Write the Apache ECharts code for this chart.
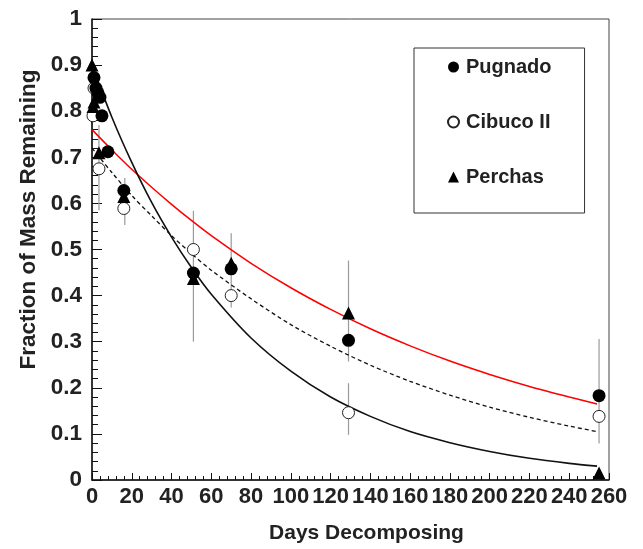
<!DOCTYPE html>
<html>
<head>
<meta charset="utf-8">
<script src="https://cdn.jsdelivr.net/npm/echarts@6/dist/echarts.min.js"></script>
<style>
html,body{margin:0;padding:0;background:#fff;}
#chart{width:643px;height:549px;}
</style>
</head>
<body>
<div id="chart"></div>
<script>
// ---- Data ----
const pugnadoDays = [1, 2, 3, 4, 5, 8, 16, 51, 70, 129, 255];
const pugnadoFrac = [0.873, 0.85, 0.84, 0.83, 0.79, 0.712, 0.628, 0.449, 0.458, 0.303, 0.183];

const cibucoDays = [0.5, 1, 3.5, 16, 51, 70, 129, 255];
const cibucoFrac = [0.79, 0.85, 0.675, 0.589, 0.50, 0.40, 0.146, 0.138];

const perchasDays = [0, 1, 0.5, 3.5, 16, 51, 70, 129, 255];
const perchasFrac = [0.90, 0.82, 0.81, 0.71, 0.615, 0.437, 0.47, 0.362, 0.015];

// error bars: day, low, high
const errDays = [3.5, 16.5, 51, 70, 129, 129, 255];
const errLow  = [0.585, 0.553, 0.30, 0.374, 0.257, 0.098, 0.079];
const errHigh = [0.77, 0.655, 0.584, 0.535, 0.476, 0.21, 0.306];

// fitted curves
const curveDays = [0, 10, 20, 30, 40, 50, 60, 80, 100, 120, 140, 160, 180, 200, 220, 240, 254];
const fitBlack  = [0.90, 0.787, 0.689, 0.602, 0.527, 0.461, 0.403, 0.308, 0.236, 0.180, 0.138, 0.105, 0.081, 0.062, 0.047, 0.036, 0.030];
const fitRed    = [0.760, 0.716, 0.674, 0.635, 0.598, 0.563, 0.530, 0.470, 0.417, 0.370, 0.328, 0.291, 0.258, 0.229, 0.203, 0.180, 0.165];
const fitDashed = [0.720, 0.667, 0.617, 0.573, 0.530, 0.491, 0.455, 0.393, 0.337, 0.290, 0.249, 0.214, 0.184, 0.158, 0.136, 0.117, 0.105];

const xTicks = [0, 20, 40, 60, 80, 100, 120, 140, 160, 180, 200, 220, 240, 260];
const yTicks = [0, 0.1, 0.2, 0.3, 0.4, 0.5, 0.6, 0.7, 0.8, 0.9, 1];

// ---- build ----
const zip = (a, b) => a.map((v, i) => [v, b[i]]);
const errData = errDays.map((d, i) => [d, errLow[i], errHigh[i]]);
const FONT = '"Liberation Sans", Arial, Helvetica, sans-serif';

const chart = echarts.init(document.getElementById('chart'), null, {renderer: 'canvas'});
chart.setOption({
  animation: false,
  backgroundColor: '#fff',
  grid: {left: 92, top: 19, right: 34, bottom: 65, show: true, borderColor: '#444', borderWidth: 1},
  xAxis: {
    type: 'value', min: xTicks[0], max: xTicks[xTicks.length - 1], interval: 20,
    name: 'Days Decomposing', nameLocation: 'middle', nameGap: 43,
    nameTextStyle: {fontFamily: FONT, fontWeight: 'bold', fontSize: 21, color: '#222', padding: [0, 0, 0, 32]},
    axisLine: {show: true, lineStyle: {color: '#111', width: 1.5}},
    axisTick: {show: true, inside: true, length: 7, lineStyle: {color: '#111'}},
    minorTick: {show: true, splitNumber: 5, length: 4, lineStyle: {color: '#111'}},
    splitLine: {show: false},
    axisLabel: {fontFamily: FONT, fontWeight: 'bold', fontSize: 22, color: '#222', margin: 6}
  },
  yAxis: {
    type: 'value', min: yTicks[0], max: yTicks[yTicks.length - 1], interval: 0.1,
    name: 'Fraction of Mass Remaining', nameLocation: 'middle', nameGap: 49,
    nameTextStyle: {fontFamily: FONT, fontWeight: 'bold', fontSize: 22.5, color: '#222', padding: [0, 0, 0, 60]},
    axisLine: {show: true, lineStyle: {color: '#111', width: 1.5}},
    axisTick: {show: true, inside: true, length: 10, lineStyle: {color: '#111'}},
    minorTick: {show: true, splitNumber: 5, length: 6, lineStyle: {color: '#111'}},
    splitLine: {show: false},
    axisLabel: {fontFamily: FONT, fontWeight: 'bold', fontSize: 22.5, color: '#222', margin: 10,
      formatter: v => String(Math.round(v * 10) / 10)}
  },
  legend: {
    orient: 'vertical', left: 414, top: 48,
    padding: [9, 33, 26, 33], itemGap: 35, itemWidth: 11, itemHeight: 11,
    borderColor: '#333', borderWidth: 1, backgroundColor: '#fff',
    textStyle: {fontFamily: FONT, fontWeight: 'bold', fontSize: 20, color: '#222', padding: [0,0,0,2]},
    data: [
      {name: 'Pugnado', icon: 'circle'},
      {name: 'Cibuco II', icon: 'circle'},
      {name: 'Perchas', icon: 'triangle'}
    ]
  },
  series: [
    {
      name: 'errors', type: 'custom', z: 1, silent: true,
      data: errData,
      encode: {x: 0, y: [1, 2]},
      renderItem: (params, api) => {
        const p1 = api.coord([api.value(0), api.value(1)]);
        const p2 = api.coord([api.value(0), api.value(2)]);
        return {type: 'line', shape: {x1: p1[0], y1: p1[1], x2: p2[0], y2: p2[1]},
          style: {stroke: '#9a9a9a', lineWidth: 1.2}};
      }
    },
    {name: 'fitRed', type: 'line', z: 2, data: zip(curveDays, fitRed), showSymbol: false, smooth: 0.3,
      lineStyle: {color: '#ff0000', width: 1.5}},
    {name: 'fitDashed', type: 'line', z: 2, data: zip(curveDays, fitDashed), showSymbol: false, smooth: 0.3,
      lineStyle: {color: '#111', width: 1.3, type: [4, 3]}},
    {name: 'fitBlack', type: 'line', z: 2, data: zip(curveDays, fitBlack), showSymbol: false, smooth: 0.3,
      lineStyle: {color: '#111', width: 1.6}},
    {name: 'Cibuco II', type: 'scatter', z: 3, data: zip(cibucoDays, cibucoFrac), symbol: 'circle', symbolSize: 12,
      itemStyle: {color: '#fff', borderColor: '#222', borderWidth: 1, opacity: 1}},
    {name: 'Perchas', type: 'scatter', z: 4, data: zip(perchasDays, perchasFrac), symbol: 'triangle', symbolSize: 13,
      itemStyle: {color: '#000', opacity: 1}},
    {name: 'Pugnado', type: 'scatter', z: 5, data: zip(pugnadoDays, pugnadoFrac), symbol: 'circle', symbolSize: 13,
      itemStyle: {color: '#000', opacity: 1}}
  ]
});
</script>
</body>
</html>
